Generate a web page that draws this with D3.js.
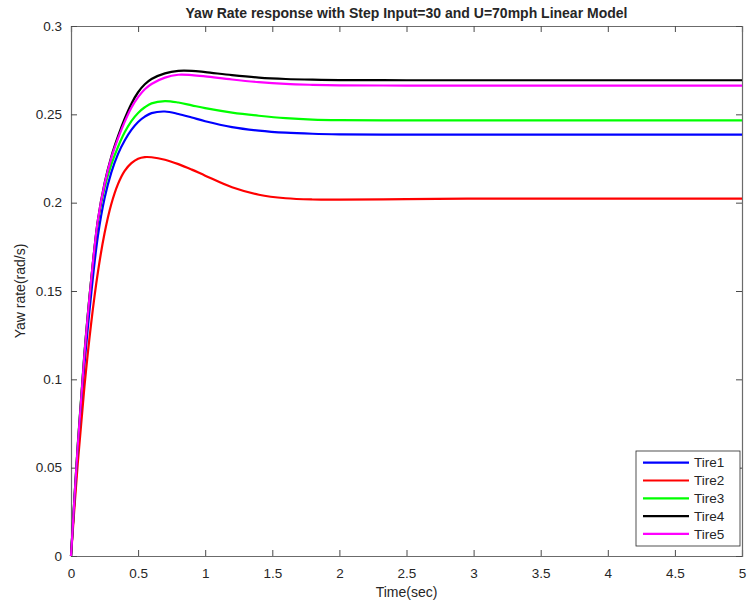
<!DOCTYPE html>
<html>
<head>
<meta charset="utf-8">
<script src="https://cdn.jsdelivr.net/npm/d3@7"></script>
<style>
  body { margin: 0; background: #fff; }
  text { font-family: "Liberation Sans", Arial, sans-serif; fill: #262626; }
</style>
</head>
<body>
<div class="chart"></div>
<script>
const svgWidth = 749
const svgHeight = 609

let margin = { top: 26, right: 7, bottom: 53, left: 71 }
let width = svgWidth - margin.left - margin.right
let height = svgHeight - margin.top - margin.bottom

// time samples (sec) and yaw rate (rad/s)
const times = [0, 0.05, 0.1, 0.15, 0.2, 0.25, 0.3, 0.35, 0.4, 0.45, 0.5, 0.55, 0.6, 0.7, 0.8, 0.9, 1.0, 1.2, 1.4, 1.6, 1.8, 2.0, 2.5, 3, 3.5, 4, 4.5, 5]
const tire1 = [0, 0.059, 0.108, 0.148, 0.181, 0.2025, 0.217, 0.2275, 0.2352, 0.2412, 0.2457, 0.2487, 0.2507, 0.2516, 0.2502, 0.2482, 0.2461, 0.2428, 0.2408, 0.2396, 0.239, 0.2387, 0.2385, 0.2385, 0.2385, 0.2385, 0.2385, 0.2385]
const tire2 = [0, 0.0521, 0.0958, 0.1316, 0.1604, 0.1827, 0.1991, 0.2105, 0.218, 0.2224, 0.2249, 0.2258, 0.2257, 0.2243, 0.2218, 0.2187, 0.2153, 0.2087, 0.2045, 0.2025, 0.2018, 0.2017, 0.202, 0.2023, 0.2023, 0.2023, 0.2023, 0.2023]
const tire3 = [0, 0.063, 0.115, 0.156, 0.189, 0.2085, 0.2215, 0.2315, 0.2398, 0.2462, 0.2508, 0.254, 0.2562, 0.2575, 0.2567, 0.2551, 0.2535, 0.251, 0.2492, 0.2478, 0.247, 0.2467, 0.2466, 0.2466, 0.2466, 0.2466, 0.2466, 0.2466]
const tire4 = [0, 0.062, 0.114, 0.156, 0.19, 0.211, 0.226, 0.2375, 0.2475, 0.256, 0.2625, 0.267, 0.27, 0.2732, 0.2746, 0.2746, 0.2739, 0.2722, 0.2708, 0.27, 0.2696, 0.2694, 0.2693, 0.2693, 0.2693, 0.2693, 0.2693, 0.2693]
const tire5 = [0, 0.062, 0.114, 0.156, 0.19, 0.2105, 0.2252, 0.2362, 0.2457, 0.2537, 0.2597, 0.2642, 0.2672, 0.2708, 0.2724, 0.2722, 0.2715, 0.2697, 0.2682, 0.2672, 0.2667, 0.2664, 0.2663, 0.2663, 0.2663, 0.2663, 0.2663, 0.2663]

const seriesNames = ["Tire1", "Tire2", "Tire3", "Tire4", "Tire5"]
const seriesColors = ["#0000ff", "#ff0000", "#00ff00", "#000000", "#ff00ff"]
const xTicks = [0, 0.5, 1, 1.5, 2, 2.5, 3, 3.5, 4, 4.5, 5]
const yTicks = [0, 0.05, 0.1, 0.15, 0.2, 0.25, 0.3]

let series = [tire1, tire2, tire3, tire4, tire5].map((vals, i) => ({
  name: seriesNames[i],
  color: seriesColors[i],
  values: vals.map((v, j) => ({ t: times[j], v: v }))
}))

let svg = d3.select(".chart")
  .append("svg")
  .attr("width", svgWidth)
  .attr("height", svgHeight)

let chartGroup = svg.append("g")
  .attr("transform", `translate(${margin.left}, ${margin.top})`)

let x = d3.scaleLinear().domain([0, 5]).range([0, width])
let y = d3.scaleLinear().domain([0, 0.3]).range([height, 0])

const fmt = d => d3.format("")(+d.toFixed(2))

// axes: ticks pointing inwards like matlab
let xAxis = chartGroup.append("g")
  .attr("transform", `translate(0, ${height})`)
  .call(d3.axisBottom(x).tickValues(xTicks).tickSize(-6).tickPadding(12).tickFormat(fmt))
let xTop = chartGroup.append("g")
  .call(d3.axisTop(x).tickValues(xTicks).tickSize(-6).tickFormat(""))
let yAxis = chartGroup.append("g")
  .call(d3.axisLeft(y).tickValues(yTicks).tickSize(-6).tickPadding(9).tickFormat(fmt))
let yRight = chartGroup.append("g")
  .attr("transform", `translate(${width}, 0)`)
  .call(d3.axisRight(y).tickValues(yTicks).tickSize(-6).tickFormat(""))

;[xAxis, xTop, yAxis, yRight].forEach(a => {
  a.select(".domain").attr("stroke", "#6b6b6b").attr("stroke-width", 1.2)
  a.selectAll(".tick line").attr("stroke", "#4a4a4a")
  a.selectAll("text").style("font-size", "13.5px").attr("fill", "#262626")
})

// curves
let line = d3.line()
  .x(d => x(d.t))
  .y(d => y(d.v))
  .curve(d3.curveCatmullRom.alpha(0.5))

chartGroup.selectAll(".series")
  .data(series)
  .enter()
  .append("path")
  .attr("d", d => line(d.values))
  .attr("fill", "none")
  .attr("stroke", d => d.color)
  .attr("stroke-width", 2.2)

// title and axis labels
svg.append("text")
  .attr("x", margin.left + width / 2)
  .attr("y", 18)
  .attr("text-anchor", "middle")
  .style("font-size", "14px")
  .style("font-weight", "bold")
  .attr("fill", "#000")
  .text("Yaw Rate response with Step Input=30 and U=70mph Linear Model")

svg.append("text")
  .attr("x", margin.left + width / 2)
  .attr("y", 597)
  .attr("text-anchor", "middle")
  .style("font-size", "14px")
  .text("Time(sec)")

svg.append("text")
  .attr("transform", `translate(25, ${margin.top + height / 2}) rotate(-90)`)
  .attr("text-anchor", "middle")
  .style("font-size", "14px")
  .text("Yaw rate(rad/s)")

// legend
let legend = svg.append("g").attr("transform", "translate(636, 451)")
legend.append("rect")
  .attr("width", 104)
  .attr("height", 95)
  .attr("fill", "#fff")
  .attr("stroke", "#262626")
  .attr("stroke-width", 0.8)

let items = legend.selectAll(".item")
  .data(series)
  .enter()
  .append("g")
  .attr("transform", (d, i) => `translate(0, ${11.7 + i * 17.8})`)
items.append("line")
  .attr("x1", 7).attr("x2", 53)
  .attr("stroke", d => d.color)
  .attr("stroke-width", 2.2)
items.append("text")
  .attr("x", 58)
  .attr("dy", "0.35em")
  .style("font-size", "13.5px")
  .attr("fill", "#000")
  .text(d => d.name)
</script>
</body>
</html>
